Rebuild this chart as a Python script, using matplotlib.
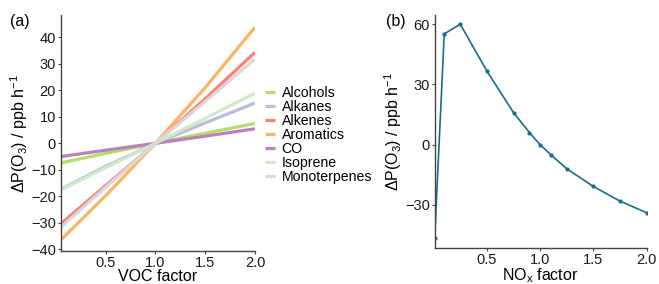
import matplotlib
matplotlib.use("Agg")
import matplotlib.pyplot as plt

plt.rcParams['font.family'] = ['Liberation Sans', 'DejaVu Sans']
plt.rcParams['mathtext.fontset'] = 'custom'
plt.rcParams['mathtext.rm'] = 'Liberation Sans'
plt.rcParams['mathtext.it'] = 'Liberation Sans:italic'

# ---- Panel (a) data ----
voc_factor = [0.05, 0.5, 1.0, 1.5, 2.0]
species = ["Alcohols", "Alkanes", "Alkenes", "Aromatics", "CO", "Isoprene", "Monoterpenes"]
alcohols = [-7.4, -3.8, 0.0, 3.8, 7.5]
alkanes = [-17.3, -8.7, 0.0, 7.7, 15.2]
alkenes = [-30.4, -16.0, 0.0, 16.8, 34.3]
aromatics = [-36.5, -19.8, 0.0, 21.0, 43.8]
co = [-5.0, -2.6, 0.0, 2.7, 5.5]
isoprene = [-17.6, -9.2, 0.0, 9.4, 18.9]
monoterpenes = [-31.7, -16.6, 0.0, 15.8, 31.8]
series = [alcohols, alkanes, alkenes, aromatics, co, isoprene, monoterpenes]
colors = ["#b3de69", "#bebada", "#fb8072", "#fdb462", "#bc80bd", "#ccebc5", "#d9d9d9"]

# ---- Panel (b) data ----
nox_factor = [0.01, 0.1, 0.25, 0.5, 0.75, 0.9, 1.0, 1.1, 1.25, 1.5, 1.75, 2.0]
nox_dp = [-46.3, 55.2, 60.0, 36.7, 16.0, 6.0, 0.0, -5.0, -12.0, -20.8, -28.1, -33.9]

fig = plt.figure(figsize=(6.59, 2.84), dpi=100)
axa = fig.add_axes([0.0921, 0.1162, 0.2948, 0.831])
axb = fig.add_axes([0.6596, 0.1257, 0.3217, 0.8215])

ylabel = "ΔP(O$_3$) / ppb h$^{-1}$"
spine_col = "#444444"

def style(ax):
    for s in ["top", "right"]:
        ax.spines[s].set_visible(False)
    for s in ["left", "bottom"]:
        ax.spines[s].set_color(spine_col)
        ax.spines[s].set_linewidth(1.0)
    ax.tick_params(direction="out", length=2.5, width=0.8, color=spine_col,
                   labelsize=10.5, labelcolor="#1a1a1a", pad=1.0)

for name, vals, c in zip(species, series, colors):
    axa.plot(voc_factor, vals, color=c, lw=2.3, label=name, solid_capstyle="butt")
axa.set_xlim(0.05, 2.0)
axa.set_ylim(-40.6, 48.4)
axa.set_xticks([0.5, 1.0, 1.5, 2.0])
axa.set_xticklabels(["0.5", "1.0", "1.5", "2.0"])
axa.set_yticks(range(-40, 41, 10))
style(axa)
axa.set_xlabel("VOC factor", fontsize=11.5, labelpad=-0.5)
axa.set_ylabel(ylabel, fontsize=11.5, labelpad=0.5)
axa.legend(loc="center left", bbox_to_anchor=(1.02, 0.49), frameon=False,
           fontsize=10.2, handlelength=0.75, handletextpad=0.45, labelspacing=0.0,
           borderaxespad=0.0)
fig.text(0.015, 0.925, "(a)", fontsize=11.5, ha="left", va="center")

axb.plot(nox_factor, nox_dp, color="#176d8c", lw=1.2, marker="o", ms=2.0)
axb.set_xlim(0.01, 2.0)
axb.set_ylim(-51.6, 64.6)
axb.set_xticks([0.5, 1.0, 1.5, 2.0])
axb.set_xticklabels(["0.5", "1.0", "1.5", "2.0"])
axb.set_yticks([-30, 0, 30, 60])
style(axb)
axb.set_xlabel("NO$_\\mathrm{x}$ factor", fontsize=11.5, labelpad=-0.5)
axb.set_ylabel(ylabel, fontsize=11.5, labelpad=0.5)
fig.text(0.585, 0.925, "(b)", fontsize=11.5, ha="left", va="center")

fig.savefig("out.png", dpi=100)
